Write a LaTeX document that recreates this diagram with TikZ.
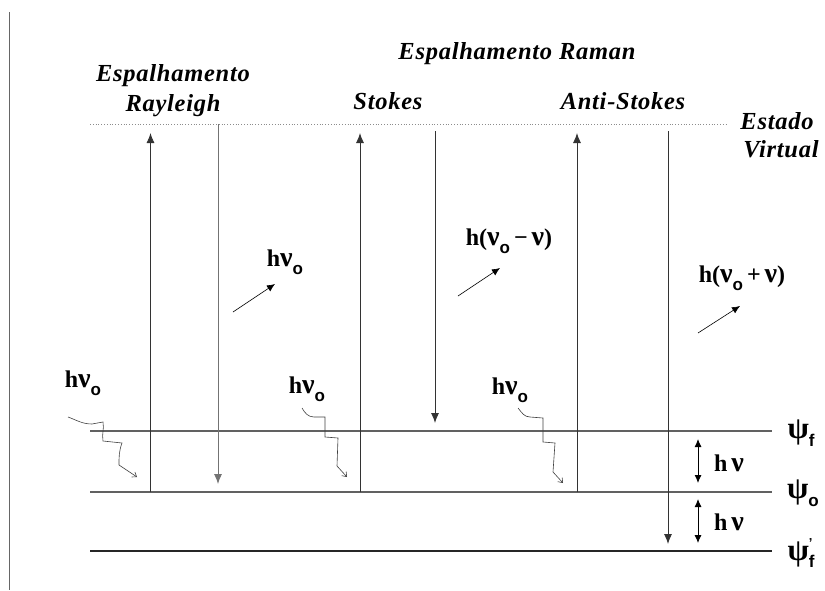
\documentclass[tikz,border=0pt]{standalone}
\usepackage{fontspec}
\setmainfont{Liberation Serif}
\newfontfamily\subfont{Liberation Sans}
\usetikzlibrary{arrows.meta}
\newcommand\lowsub[1]{\raisebox{-0.32em}{\subfont\fontsize{17}{17}\selectfont #1}}
\newcommand\bignu{{\fontsize{28}{28}\selectfont ν}}
\newcommand\bigpsi{{\fontsize{31}{31}\selectfont ψ}}
\begin{document}
\begin{tikzpicture}[x=1pt,y=-1pt,
  lvl/.style={line width=1.1pt, draw=black!62},
  lvlb/.style={line width=1.1pt, draw=black!85},
  tr/.style={line width=0.9pt, draw=black!80, -{Latex[length=10pt,width=8pt]}},
  trg/.style={line width=0.9pt, draw=black!55, -{Latex[length=10pt,width=8pt]}},
  dbl/.style={line width=0.9pt, {Latex[length=8pt,width=7pt]}-{Latex[length=8pt,width=7pt]}},
  sm/.style={line width=0.6pt, -{Latex[length=8pt,width=7pt]}},
  wav/.style={line width=0.6pt, draw=black!75, -{Straight Barb[length=4pt,width=6pt]}},
  ttl/.style={font=\fontsize{24.5}{26}\selectfont\bfseries\itshape\addfontfeature{LetterSpace=3}, inner sep=0},
  sym/.style={font=\fontsize{24}{26}\selectfont\bfseries, inner sep=0},
]
\useasboundingbox (0,0) rectangle (825,590);
% left border line
\coordinate (bt) at (9,12); \coordinate (bb) at (9,590);
\draw[line width=1pt, black!60] (bt) -- (bb);
% levels
\coordinate (vL) at (90,124); \coordinate (vR) at (727,124);
\draw[line width=0.8pt, black!45, dotted] (vL) -- (vR);
\coordinate (fL) at (90,431); \coordinate (fR) at (772,431);
\coordinate (oL) at (90,492); \coordinate (oR) at (772,492);
\coordinate (pL) at (90,551); \coordinate (pR) at (772,551);
\draw[lvl] (fL) -- (fR);
\draw[lvl] (oL) -- (oR);
\draw[lvlb] (pL) -- (pR);
% Rayleigh
\coordinate (r1a) at (150.5,492); \coordinate (r1b) at (150.5,133);
\coordinate (r2a) at (218,124); \coordinate (r2b) at (218,484);
\draw[tr] (r1a) -- (r1b);
\draw[trg] (r2a) -- (r2b);
% Stokes
\coordinate (s1a) at (360,492); \coordinate (s1b) at (360,133);
\coordinate (s2a) at (435,131); \coordinate (s2b) at (435,423);
\draw[tr] (s1a) -- (s1b);
\draw[tr] (s2a) -- (s2b);
% Anti-Stokes
\coordinate (a1a) at (577,492); \coordinate (a1b) at (577,133);
\coordinate (a2a) at (668,131); \coordinate (a2b) at (668,544);
\draw[tr] (a1a) -- (a1b);
\draw[tr] (a2a) -- (a2b);
% h nu double arrows
\coordinate (d1a) at (698,439); \coordinate (d1b) at (698,483);
\coordinate (d2a) at (698,499); \coordinate (d2b) at (698,543);
\draw[dbl] (d1a) -- (d1b);
\draw[dbl] (d2a) -- (d2b);
% scattered photon arrows
\coordinate (p1a) at (233,312); \coordinate (p1b) at (275,284);
\coordinate (p2a) at (458,296); \coordinate (p2b) at (500,268);
\coordinate (p3a) at (698,333); \coordinate (p3b) at (740,306);
\draw[sm] (p1a) -- (p1b);
\draw[sm] (p2a) -- (p2b);
\draw[sm] (p3a) -- (p3b);
% incoming wavy photons
\draw[wav] (68,417) to[out=-20,in=180] (92,424) -- (103,422) to[out=-80,in=100] (103,441)
  -- (122,443) to[out=-110,in=90] (119,465) -- (137,477);
\draw[wav] (302,408) to[out=-60,in=180] (314,417) -- (325,417) -- (325,437)
  -- (338,438) -- (337,466) -- (347,477);
\draw[wav] (518,408) to[out=-50,in=180] (530,417) -- (543,418) -- (543,442)
  -- (555,443) -- (553,472) -- (563,483);
% titles
\node[ttl] (t1) at (173,76) {Espalhamento};
\node[ttl] (t2) at (173,106) {Rayleigh};
\node[ttl] (t3) at (517,54) {Espalhamento Raman};
\node[ttl] (t4) at (388,101) {Stokes};
\node[ttl] (t5) at (623,101) {Anti-Stokes};
\node[ttl] (t6) at (777,121) {Estado};
\node[ttl] (t7) at (781,149) {Virtual};
% photon labels
\node[sym] (l1) at (285,262) {h\bignu\lowsub{o}};
\node[sym] (l2) at (509,241) {h(\bignu\lowsub{o}\,−\,\bignu)};
\node[sym] (l3) at (742,278) {h(\bignu\lowsub{o}\,+\,\bignu)};
\node[sym] (l4) at (83,383) {h\bignu\lowsub{o}};
\node[sym] (l5) at (307,389) {h\bignu\lowsub{o}};
\node[sym] (l6) at (510,390) {h\bignu\lowsub{o}};
\node[sym] (l7) at (729,463) {h\,\bignu};
\node[sym] (l8) at (729,522) {h\,\bignu};
% level labels
\node[sym] (k1) at (801,433) {\bigpsi\lowsub{f}};
\node[sym] (k2) at (803,493) {\bigpsi\lowsub{o}};
\node[sym] (k3) at (801,553) {\bigpsi\lowsub{\rlap{\raisebox{1.2em}{\fontsize{13}{13}\selectfont ’}}f}};
\end{tikzpicture}
\end{document}
